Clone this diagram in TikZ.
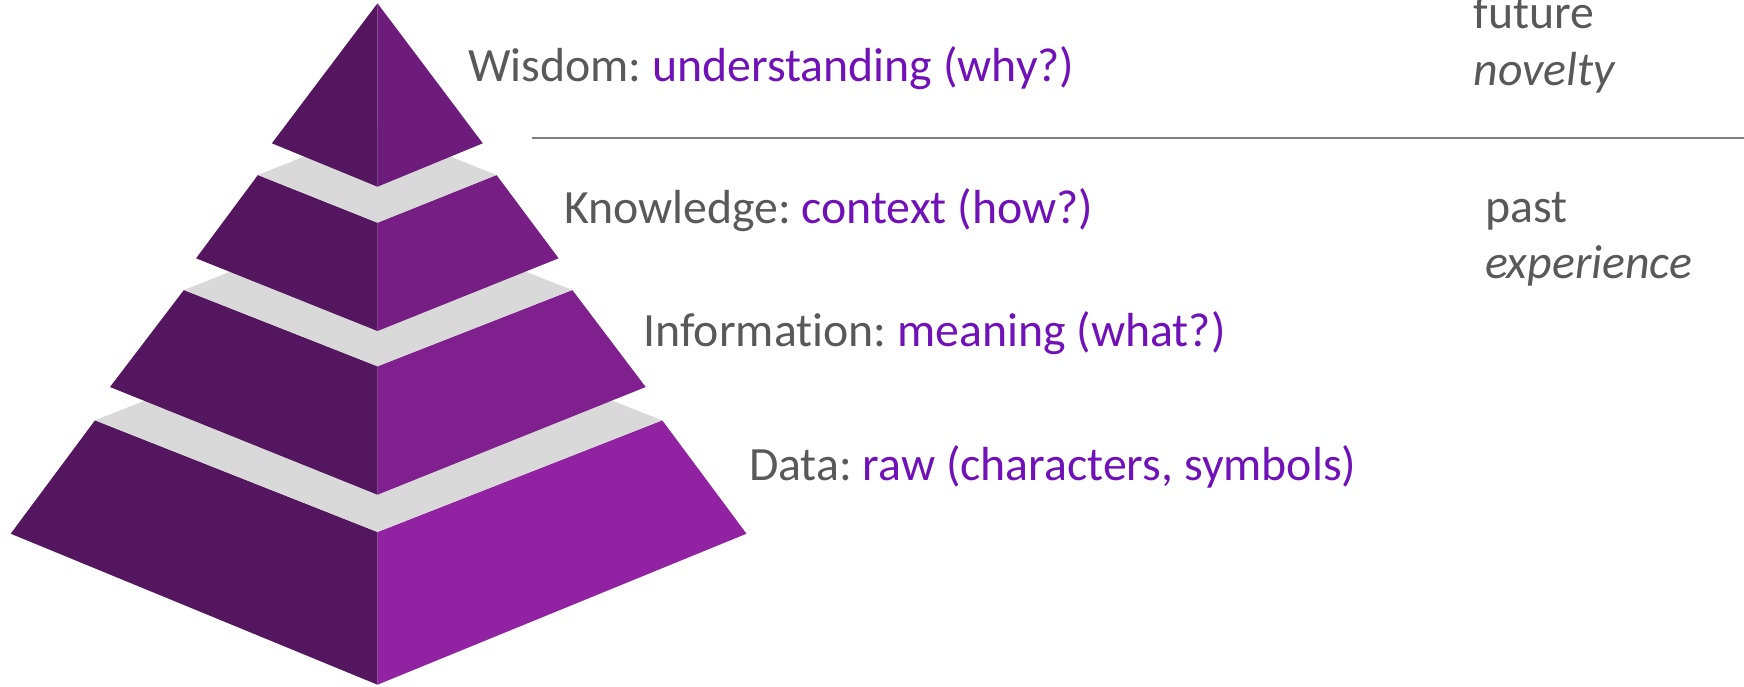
\documentclass[tikz,border=0pt]{standalone}
\usepackage{fontspec}
\setmainfont[Ligatures=NoCommon]{Carlito}
\frenchspacing
\begin{document}
\definecolor{sidedark}{HTML}{54165E}
\definecolor{sideA}{HTML}{6E1C7B}
\definecolor{sideB}{HTML}{761E83}
\definecolor{sideC}{HTML}{80208F}
\definecolor{sideD}{HTML}{9123A2}
\definecolor{topface}{HTML}{D9D9D9}
\definecolor{labelgray}{HTML}{595959}
\definecolor{labelpurple}{HTML}{7012B8}
\definecolor{rulegray}{HTML}{7F7F7F}
\begin{tikzpicture}[x=0.5pt,y=-0.5pt,
  lbl/.style={anchor=base west,inner sep=0pt,outer sep=0pt,text=labelgray,
    font=\fontsize{23.9pt}{28pt}\selectfont}]
\useasboundingbox (0,0) rectangle (1744,686);

% Data tier (bottom)
\fill[sidedark] (10.7,533.7) -- (95,420.3) -- (377.5,532) -- (377.5,684.7) -- cycle;
\fill[sideD] (377.5,684.7) -- (377.5,532) -- (662.2,420.3) -- (746.5,533.7) -- cycle;
\fill[topface] (95,420.3) -- (377.5,308.6) -- (662.2,420.3) -- (377.5,532) -- cycle;

% Information tier
\fill[sidedark] (110,387) -- (183.9,290) -- (377.5,366.3) -- (377.5,494.7) -- cycle;
\fill[sideC] (377.5,494.7) -- (377.5,366.3) -- (572.3,290) -- (645.7,387) -- cycle;
\fill[topface] (183.9,290) -- (377.5,213.7) -- (572.3,290) -- (377.5,366.3) -- cycle;

% Knowledge tier
\fill[sidedark] (196.1,258.3) -- (257.9,175) -- (377.5,222.7) -- (377.5,331) -- cycle;
\fill[sideB] (377.5,331) -- (377.5,222.7) -- (496.5,175) -- (558.6,258.3) -- cycle;
\fill[topface] (257.9,175) -- (377.5,127.3) -- (496.5,175) -- (377.5,222.7) -- cycle;

% Wisdom tier (apex)
\fill[sidedark] (271.9,143.3) -- (377.5,3.3) -- (377.5,186.7) -- cycle;
\fill[sideA] (377.5,186.7) -- (377.5,3.3) -- (482.8,143.3) -- cycle;

% Level labels
\node[lbl] (wisdom) at (468,81) {Wisdom: \textcolor{labelpurple}{understanding (why?)}};
\node[lbl] (knowledge) at (564,223) {Knowledge: \textcolor{labelpurple}{context (how?)}};
\node[lbl] (information) at (643.5,346.5) {Information: \textcolor{labelpurple}{meaning (what?)}};
\node[lbl] (data) at (749,480) {Data: \textcolor{labelpurple}{raw (characters, symbols)}};

% Divider between future and past
\coordinate (ruleL) at (531.5,137.7);
\coordinate (ruleR) at (1744,137.7);
\draw[rulegray,line width=1.1pt] (ruleL) -- (ruleR);

% Time annotations
\node[lbl] (future) at (1473.5,28.5) {future};
\node[lbl] (novelty) at (1473.5,85) {\itshape novelty};
\node[lbl] (past) at (1485.5,222) {past};
\node[lbl] (experience) at (1485,278.5) {\itshape experience};
\end{tikzpicture}
\end{document}
